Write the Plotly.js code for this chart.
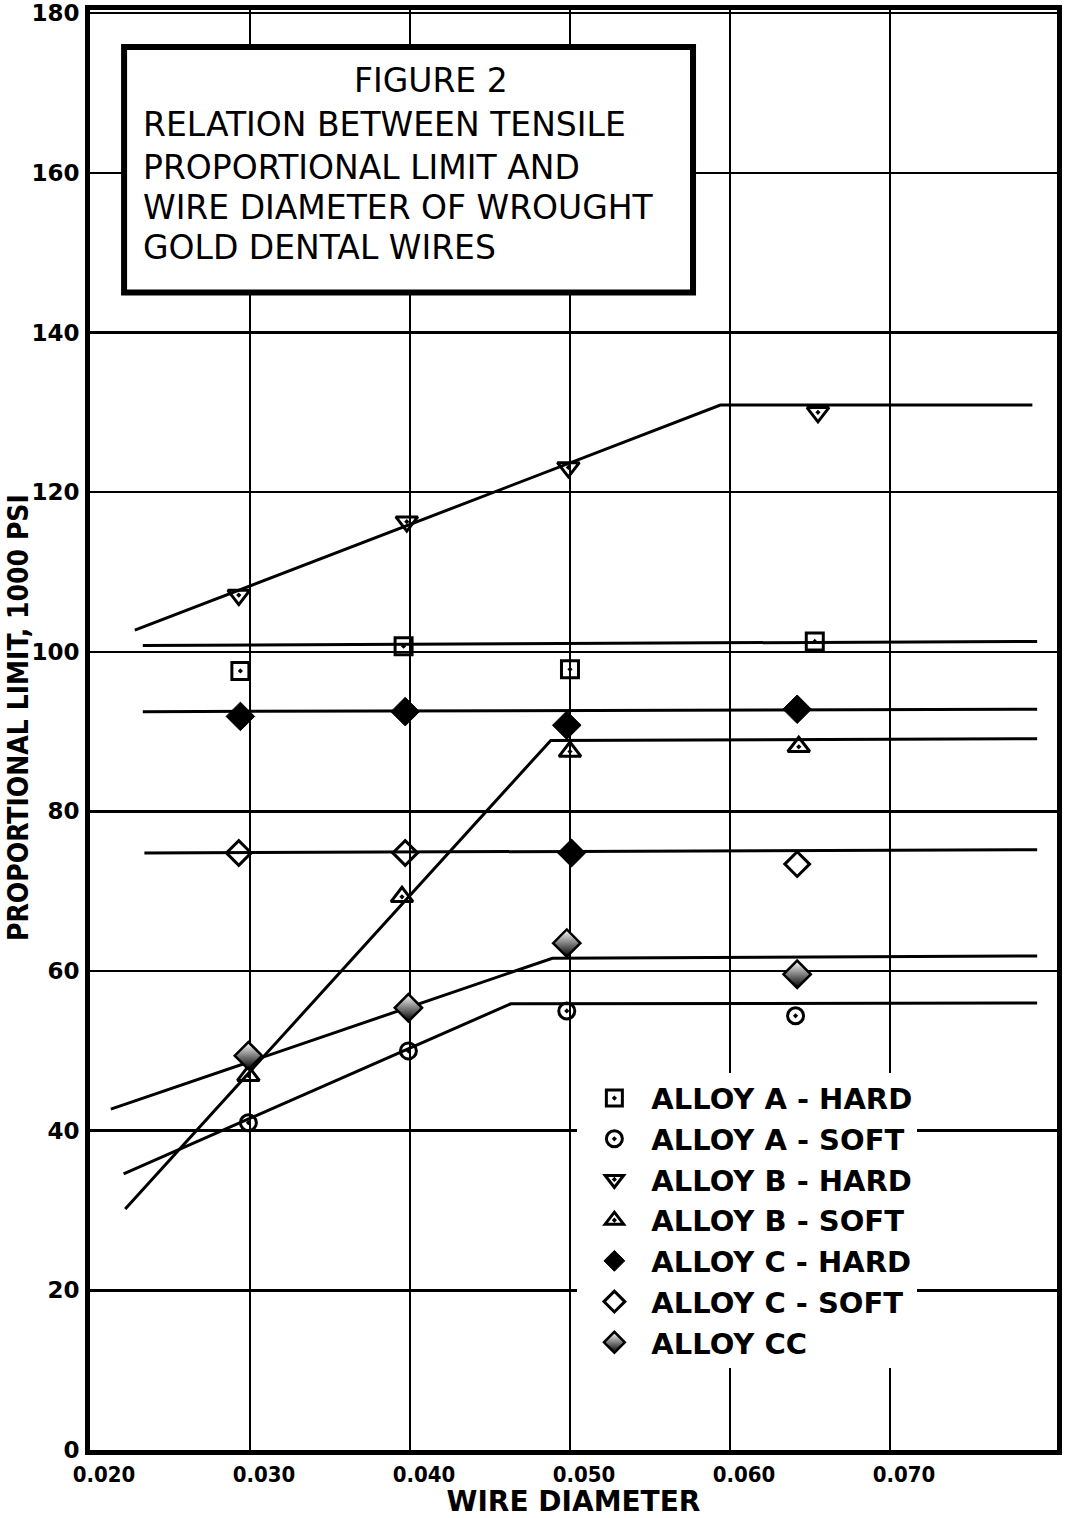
<!DOCTYPE html>
<html><head><meta charset="utf-8">
<script src="https://cdn.plot.ly/plotly-3.0.1.min.js"></script>
<style>html,body{margin:0;padding:0;background:#fff}</style>
</head><body><div id="chart" style="width:1068px;height:1518px"></div>
<script>
// ---- data ----
const xTickVals = [0.020, 0.030, 0.040, 0.050, 0.060, 0.070];
const xTickText = ["0.020", "0.030", "0.040", "0.050", "0.060", "0.070"];
const yTickVals = [0, 20, 40, 60, 80, 100, 120, 140, 160, 180];

const seriesNames = ["ALLOY A - HARD", "ALLOY A - SOFT", "ALLOY B - HARD", "ALLOY B - SOFT",
                     "ALLOY C - HARD", "ALLOY C - SOFT", "ALLOY CC"];

const aHardX = [0.0294, 0.0396, 0.0500, 0.0653];
const aHardY = [97.6, 100.7, 97.8, 101.3];
const aSoftX = [0.0299, 0.0399, 0.0498, 0.0641];
const aSoftY = [41.0, 50.0, 55.0, 54.4];
const bHardX = [0.0293, 0.0398, 0.0499, 0.0655];
const bHardY = [107.1, 116.3, 123.1, 130.0];
const bSoftX = [0.0299, 0.0395, 0.0500, 0.0643];
const bSoftY = [46.9, 69.3, 87.5, 88.1];
const cHardX = [0.0294, 0.0397, 0.0498, 0.0642];
const cHardY = [91.9, 92.5, 90.8, 92.8];
const cSoftX = [0.0293, 0.0397, 0.0501, 0.0642];
const cSoftY = [74.8, 74.8, 74.8, 73.4];
const ccX = [0.0299, 0.0399, 0.0498, 0.0642];
const ccY = [49.4, 55.4, 63.5, 59.6];

// fitted curves (breakpoints)
const fitBHardX = [0.0228, 0.0594, 0.0789];
const fitBHardY = [102.7, 130.9, 130.9];
const fitAHardX = [0.0233, 0.0792];
const fitAHardY = [100.8, 101.3];
const fitCHardX = [0.0233, 0.0792];
const fitCHardY = [92.5, 92.8];
const fitBSoftX = [0.0222, 0.0488, 0.0792];
const fitBSoftY = [30.2, 88.9, 89.1];
const fitCSoftX = [0.0234, 0.0792];
const fitCSoftY = [74.8, 75.2];
const fitCCX = [0.0213, 0.0489, 0.0792];
const fitCCY = [42.7, 61.6, 61.9];
const fitASoftX = [0.0221, 0.0463, 0.0792];
const fitASoftY = [34.6, 55.9, 56.0];

const titleLines = ["FIGURE 2", "RELATION BETWEEN TENSILE", "PROPORTIONAL LIMIT AND",
                    "WIRE DIAMETER OF WROUGHT", "GOLD DENTAL WIRES"];
const xTitle = "WIRE DIAMETER";
const yTitle = "PROPORTIONAL LIMIT, 1000 PSI";

// ---- build ----
const BLACK = "#000";
function fit(x, y) {
  return {x: x, y: y, type: "scatter", mode: "lines", showlegend: false, hoverinfo: "skip",
          line: {color: BLACK, width: 3}};
}
function pts(x, y, name, symbol, size, extra) {
  const m = Object.assign({symbol: symbol, size: size, color: BLACK, line: {color: BLACK, width: 3}}, extra || {});
  return {x: x, y: y, type: "scatter", mode: "markers", name: name, marker: m,
          legendgroup: name};
}

const traces = [
  fit(fitBHardX, fitBHardY), fit(fitAHardX, fitAHardY), fit(fitCHardX, fitCHardY),
  fit(fitBSoftX, fitBSoftY), fit(fitCSoftX, fitCSoftY), fit(fitCCX, fitCCY), fit(fitASoftX, fitASoftY),
  pts(aHardX, aHardY, seriesNames[0], "square-open-dot", 17),
  pts(aSoftX, aSoftY, seriesNames[1], "circle-open-dot", 16),
  pts(bHardX, bHardY, seriesNames[2], "triangle-down-open-dot", 19),
  pts(bSoftX, bSoftY, seriesNames[3], "triangle-up-open-dot", 19),
  pts(cHardX, cHardY, seriesNames[4], "diamond", 22, {line: {color: BLACK, width: 1}}),
  pts(cSoftX, cSoftY, seriesNames[5], ["diamond-open", "diamond-open", "diamond", "diamond-open"], 19),
  pts(ccX, ccY, seriesNames[6], "diamond", 21, {color: "#fff", line: {color: BLACK, width: 2.5},
      gradient: {type: "vertical", color: BLACK}})
];

const titleY = [171.6, 166.1, 160.7, 155.7, 150.7];
const annotations = titleLines.map((t, i) => ({
  xref: "x", yref: "y",
  x: i === 0 ? 0.0413 : 0.0232,
  y: titleY[i],
  xanchor: i === 0 ? "center" : "left", yanchor: "middle",
  text: t, showarrow: false,
  font: {family: "DejaVu Sans, sans-serif", size: 33, color: BLACK}
}));
annotations.push({
  xref: "paper", yref: "paper", x: -0.0745, y: 0.509, xanchor: "center", yanchor: "middle",
  text: yTitle, textangle: -90, showarrow: false,
  font: {family: "DejaVu Sans Condensed, DejaVu Sans, sans-serif", size: 28, color: BLACK, weight: "bold"}
});

const layout = {
  width: 1068, height: 1518,
  margin: {l: 90, r: 11, t: 10, b: 68},
  paper_bgcolor: "#fff", plot_bgcolor: "#fff",
  showlegend: true,
  legend: {x: 0.504, y: 0.262, xanchor: "left", yanchor: "top", bgcolor: "#fff",
           borderwidth: 0, tracegroupgap: 0, itemwidth: 64,
           font: {family: "DejaVu Sans, sans-serif", size: 29, color: BLACK, weight: "bold"}},
  xaxis: {range: [0.020, 0.08044], tickvals: xTickVals, ticktext: xTickText,
          showgrid: true, gridcolor: BLACK, gridwidth: 2.5, zeroline: false,
          showline: true, linecolor: BLACK, linewidth: 5, mirror: true, ticks: "",
          ticklabelshift: 14, ticklabelstandoff: 1,
          tickfont: {family: "DejaVu Sans Condensed, sans-serif", size: 22, color: BLACK, weight: "bold"},
          title: {text: xTitle, standoff: 5,
                  font: {family: "DejaVu Sans, sans-serif", size: 28, color: BLACK, weight: "bold"}}},
  yaxis: {range: [0, 180.4], tickvals: yTickVals, showgrid: true, gridcolor: BLACK, gridwidth: 2.5,
          zeroline: false, showline: true, linecolor: BLACK, linewidth: 5, mirror: true, ticks: "",
          ticklabelstandoff: 1,
          tickfont: {family: "DejaVu Sans, sans-serif", size: 23, color: BLACK, weight: "bold"}},
  shapes: [{type: "rect", xref: "x", yref: "y", x0: 0.02213, x1: 0.05769, y0: 145, y1: 175.75,
            fillcolor: "#fff", line: {color: BLACK, width: 6}, layer: "above"}],
  annotations: annotations
};

Plotly.newPlot("chart", traces, layout, {displayModeBar: false, staticPlot: true});
</script>
</body></html>
